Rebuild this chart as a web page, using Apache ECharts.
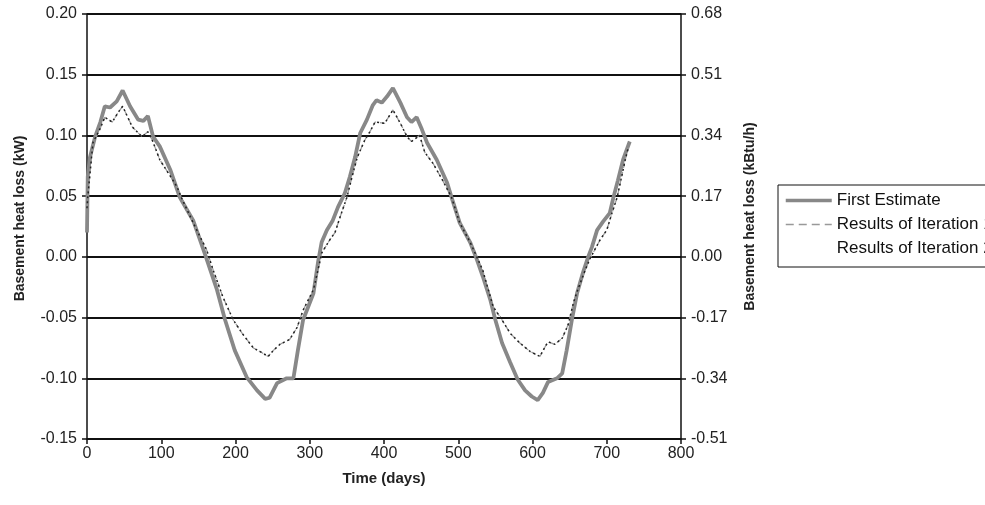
<!DOCTYPE html>
<html>
<head>
<meta charset="utf-8">
<script src="https://cdn.jsdelivr.net/npm/echarts@6/dist/echarts.min.js"></script>
<style>
  html, body { margin: 0; padding: 0; background: #fff; }
  #chart { width: 985px; height: 505px; }
</style>
</head>
<body>
<div id="chart"></div>
<script>
// First estimate (kW)
const firstDays = [0, 1, 4, 11, 18, 24, 31, 40, 48, 58, 69, 76, 82, 89, 98, 112, 125, 143, 159, 175, 186, 199, 215, 229, 240, 246, 256, 269, 278, 284, 291, 305, 311, 316, 323, 331, 338, 347, 354, 361, 368, 377, 385, 390, 397, 404, 412, 422, 431, 437, 444, 451, 458, 471, 485, 491, 502, 516, 525, 533, 543, 550, 559, 570, 580, 590, 599, 607, 614, 621, 633, 640, 646, 653, 660, 668, 675, 680, 687, 695, 704, 709, 715, 722, 731];
const firstVals = [0.020, 0.066, 0.082, 0.099, 0.111, 0.124, 0.123, 0.128, 0.137, 0.124, 0.113, 0.112, 0.116, 0.099, 0.091, 0.072, 0.049, 0.030, 0.002, -0.027, -0.052, -0.077, -0.099, -0.110, -0.117, -0.116, -0.104, -0.100, -0.100, -0.077, -0.052, -0.030, -0.005, 0.012, 0.022, 0.030, 0.041, 0.052, 0.066, 0.082, 0.102, 0.113, 0.125, 0.129, 0.127, 0.132, 0.139, 0.127, 0.115, 0.111, 0.115, 0.105, 0.094, 0.080, 0.061, 0.049, 0.028, 0.012, -0.002, -0.016, -0.035, -0.052, -0.071, -0.087, -0.101, -0.110, -0.115, -0.118, -0.112, -0.103, -0.100, -0.096, -0.077, -0.052, -0.030, -0.013, 0.000, 0.008, 0.022, 0.029, 0.036, 0.049, 0.063, 0.080, 0.095];

// iterations (the two iteration curves sit on top of each other)
const iterDays = [0, 1, 8, 18, 24, 34, 42, 48, 61, 74, 82, 88, 98, 121, 127, 143, 161, 170, 183, 197, 209, 224, 233, 244, 251, 260, 273, 283, 291, 305, 314, 316, 327, 334, 341, 350, 357, 364, 374, 381, 388, 401, 412, 422, 431, 437, 448, 455, 466, 479, 491, 502, 516, 525, 533, 547, 559, 570, 583, 597, 610, 617, 621, 630, 640, 648, 655, 661, 671, 677, 691, 700, 707, 714, 720, 725, 729];
const iterVals = [0.040, 0.049, 0.094, 0.106, 0.115, 0.111, 0.119, 0.124, 0.107, 0.099, 0.103, 0.096, 0.080, 0.058, 0.049, 0.028, 0.006, -0.011, -0.033, -0.052, -0.063, -0.075, -0.078, -0.082, -0.077, -0.072, -0.068, -0.058, -0.044, -0.027, -0.003, 0.003, 0.014, 0.020, 0.033, 0.049, 0.066, 0.082, 0.096, 0.103, 0.111, 0.110, 0.121, 0.110, 0.099, 0.095, 0.100, 0.086, 0.077, 0.063, 0.049, 0.028, 0.012, 0.000, -0.011, -0.041, -0.052, -0.063, -0.071, -0.078, -0.082, -0.074, -0.070, -0.072, -0.067, -0.056, -0.038, -0.027, -0.011, -0.002, 0.014, 0.022, 0.036, 0.049, 0.066, 0.080, 0.090];

const seriesNames = ['First Estimate', 'Results of Iteration 1', 'Results of Iteration 2'];

const pairs = (xs, ys) => xs.map((x, i) => [x, ys[i]]);
const fmt = v => (Math.abs(v) < 1e-9 ? 0 : v).toFixed(2);

const chart = echarts.init(document.getElementById('chart'));
const axisFont = { fontFamily: 'Liberation Sans', fontSize: 16, color: '#222' };
const nameFont = { fontFamily: 'Liberation Sans', fontSize: 14, fontWeight: 'bold', color: '#222' };

chart.setOption({
  animation: false,
  backgroundColor: '#fff',
  grid: { left: 87, right: 304, top: 14, bottom: 66 },
  legend: {
    orient: 'vertical',
    left: 778,
    top: 185,
    backgroundColor: '#fff',
    borderColor: '#111',
    borderWidth: 1,
    padding: [7, 6, 10, 6],
    itemWidth: 46,
    itemHeight: 14,
    itemGap: 7,
    itemStyle: { opacity: 0 },
    textStyle: { fontFamily: 'Liberation Sans', fontSize: 17, color: '#111' },
    data: [
      { name: seriesNames[0], lineStyle: { width: 3.5, color: '#888' } },
      { name: seriesNames[1], lineStyle: { width: 1.5, color: '#999', type: [8, 5] } },
      { name: seriesNames[2], lineStyle: { opacity: 0 } }
    ]
  },
  xAxis: {
    type: 'value',
    min: 0, max: 800, interval: 100,
    name: 'Time (days)',
    nameLocation: 'middle',
    nameGap: 32,
    nameTextStyle: Object.assign({}, nameFont, { fontSize: 15 }),
    axisLine: { onZero: false, lineStyle: { color: '#111', width: 1.5 } },
    axisTick: { length: 5, lineStyle: { color: '#111', width: 1.5 } },
    axisLabel: Object.assign({ margin: 7 }, axisFont),
    splitLine: { show: false }
  },
  yAxis: [
    {
      type: 'value',
      min: -0.15, max: 0.20, interval: 0.05,
      name: 'Basement heat loss (kW)',
      nameLocation: 'middle',
      nameRotate: 90,
      nameGap: 60,
      nameTextStyle: Object.assign({ padding: [0, 0, 0, 16] }, nameFont),
      axisLine: { show: true, lineStyle: { color: '#111', width: 1.5 } },
      axisTick: { show: true, length: 5, lineStyle: { color: '#111', width: 1.5 } },
      axisLabel: Object.assign({ margin: 10, formatter: fmt }, axisFont),
      splitLine: { show: true, lineStyle: { color: '#111', width: 2 } }
    },
    {
      type: 'value',
      position: 'right',
      min: -0.51, max: 0.68, interval: 0.17,
      name: 'Basement heat loss (kBtu/h)',
      nameLocation: 'middle',
      nameRotate: 90,
      nameGap: 62,
      nameTextStyle: Object.assign({ padding: [0, 0, 0, 20] }, nameFont),
      axisLine: { show: true, lineStyle: { color: '#111', width: 1.5 } },
      axisTick: { show: true, length: 5, lineStyle: { color: '#111', width: 1.5 } },
      axisLabel: Object.assign({ margin: 10, formatter: fmt }, axisFont),
      splitLine: { show: false }
    }
  ],
  series: [
    {
      name: seriesNames[0],
      type: 'line',
      symbol: 'none',
      z: 3,
      data: pairs(firstDays, firstVals),
      itemStyle: { color: '#888' },
      lineStyle: { color: '#888', width: 3.8 }
    },
    {
      name: seriesNames[1],
      type: 'line',
      symbol: 'none',
      z: 4,
      data: pairs(iterDays, iterVals),
      itemStyle: { color: '#999' },
      lineStyle: { color: '#999', width: 1.2, type: [5, 4] }
    },
    {
      name: seriesNames[2],
      type: 'line',
      symbol: 'none',
      z: 5,
      data: pairs(iterDays, iterVals),
      itemStyle: { color: '#222' },
      lineStyle: { color: '#222', width: 1.5, type: [2, 3] }
    }
  ]
});
</script>
</body>
</html>
